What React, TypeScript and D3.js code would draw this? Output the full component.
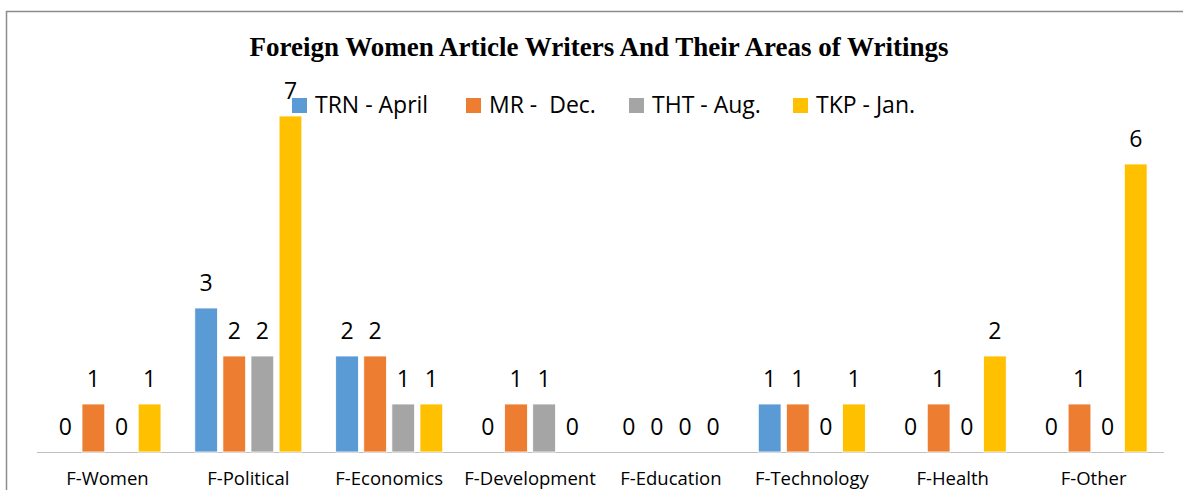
import React from "react";
import * as d3 from "d3";

const categories = ["F-Women", "F-Political", "F-Economics", "F-Development", "F-Education", "F-Technology", "F-Health", "F-Other"];
const seriesNames = ["TRN - April", "MR -  Dec.", "THT - Aug.", "TKP - Jan."];
const trnApril = [0, 3, 2, 0, 0, 1, 0, 0];
const mrDec = [1, 2, 2, 1, 0, 1, 1, 1];
const thtAug = [0, 2, 1, 1, 0, 0, 0, 0];
const tkpJan = [1, 7, 1, 0, 0, 1, 2, 6];
const seriesValues = [trnApril, mrDec, thtAug, tkpJan];
const colors = ["#5B9BD5", "#ED7D31", "#A5A5A5", "#FFC000"];
const title = "Foreign Women Article Writers And Their Areas of Writings";

const W = 1183;
const H = 490;
const plotLeft = 37;
const plotRight = 1164;
const baseY = 452;
const topY = 68;
const legendX = [292, 466, 629, 793];
const legendY = 98;
const font = "'Open Sans', sans-serif";

export default function App() {
  const x = d3.scaleBand<string>().domain(categories).range([plotLeft, plotRight]).paddingInner(0.24).paddingOuter(0.12);
  const xi = d3.scaleBand<string>().domain(seriesNames).range([0, x.bandwidth()]).paddingInner(0.19).paddingOuter(0);
  const y = d3.scaleLinear().domain([0, 8]).range([baseY, topY]);

  return (
    <svg width={W} height={H} style={{ position: "absolute", left: 0, top: 0, background: "#fff" }}>
      <rect x={6.5} y={11.5} width={1300} height={600} fill="#fff" stroke="#8c8c8c" strokeWidth={1.5} />
      <text x={599} y={56} textAnchor="middle" fontFamily="'Liberation Serif', 'Times New Roman', serif" fontWeight="bold" fontSize={27} fill="#000">
        {title}
      </text>
      <line x1={plotLeft} x2={plotRight} y1={baseY + 0.5} y2={baseY + 0.5} stroke="#bfbfbf" strokeWidth={1.2} />
      {seriesNames.map((s, si) => (
        <g key={s}>
          {categories.map((c, ci) => {
            const v = seriesValues[si][ci];
            const bx = (x(c) ?? 0) + (xi(s) ?? 0);
            const bw = xi.bandwidth();
            return (
              <g key={c}>
                {v > 0 && (
                  <rect x={bx} y={y(v)} width={bw} height={y(0) - y(v)} fill={colors[si]} stroke="#fff" strokeWidth={0.8} />
                )}
                <text x={bx + bw / 2} y={y(v) - 17} textAnchor="middle" fontFamily={font} fontSize={23} fill="#000">
                  {v}
                </text>
              </g>
            );
          })}
        </g>
      ))}
      {categories.map((c) => (
        <text key={c} x={(x(c) ?? 0) + x.bandwidth() / 2} y={485} textAnchor="middle" fontFamily={font} fontSize={18.5} fill="#000">
          {c}
        </text>
      ))}
      {seriesNames.map((s, si) => (
        <g key={s} transform={`translate(${legendX[si]},${legendY})`}>
          <rect x={0} y={0} width={15} height={15} fill={colors[si]} />
          <text x={23} y={15} fontFamily={font} fontSize={23} fill="#000" style={{ whiteSpace: "pre" }}>
            {s}
          </text>
        </g>
      ))}
    </svg>
  );
}
